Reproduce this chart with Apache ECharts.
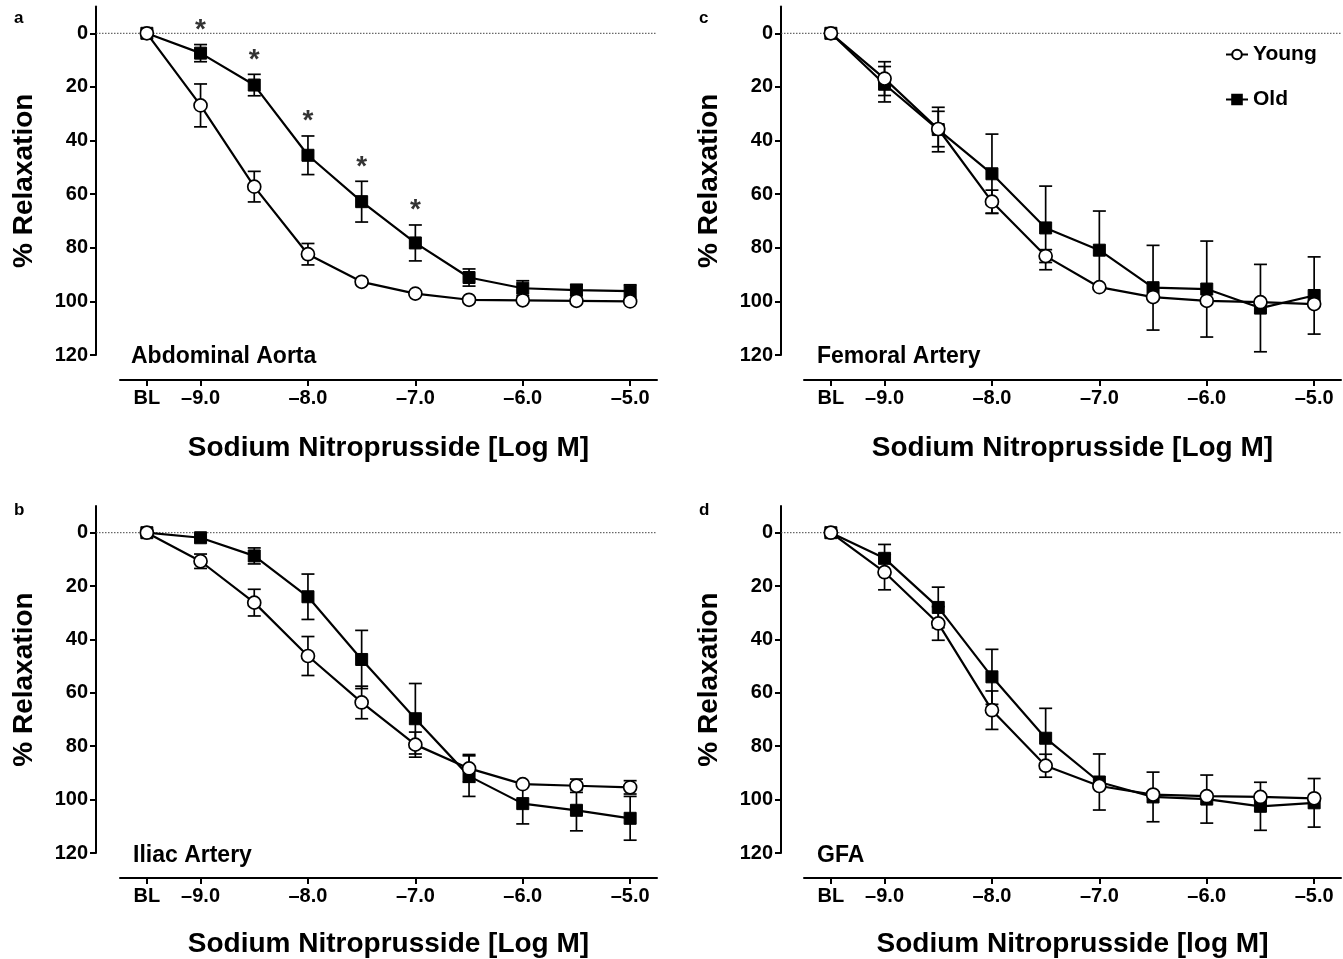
<!DOCTYPE html>
<html><head><meta charset="utf-8">
<script src="https://cdn.jsdelivr.net/npm/echarts@6/dist/echarts.min.js"></script>
<style>html,body{margin:0;padding:0;background:#fff}#c{width:1343px;height:959px}</style>
</head><body><div id="c"></div><script>
// ---- data ----
const doses = [-9.5, -9.0, -8.5, -8.0, -7.5, -7.0, -6.5, -6.0, -5.5, -5.0]; // -9.5 = BL
const xTickValues = [-9.5, -9, -8, -7, -6, -5];
const xTickLabels = ['BL', '–9.0', '–8.0', '–7.0', '–6.0', '–5.0'];
const yTickValues = [0, 20, 40, 60, 80, 100, 120];

// a: Abdominal Aorta
const youngA    = [0, 26.9, 57.2, 82.4, 92.7, 97.1, 99.4, 99.6, 99.8, 100];
const youngAErr = [0, 8.0, 5.7, 4.0, 0, 0, 0, 0, 0, 0];
const oldA      = [0, 7.4, 19.3, 45.5, 62.8, 78.2, 91.1, 95.1, 95.8, 96.2];
const oldAErr   = [0, 3.2, 4.0, 7.2, 7.6, 6.7, 3.2, 2.8, 2.1, 2.4];
const sigA      = [1, 2, 3, 4, 5]; // indices of doses marked with *

// b: Iliac Artery
const youngB    = [0, 10.7, 26.2, 46.2, 63.6, 79.4, 88.3, 94.2, 94.8, 95.4];
const youngBErr = [0, 2.7, 5.0, 7.3, 6.1, 4.7, 5.2, 0, 2.5, 2.5];
const oldB      = [0, 1.9, 8.7, 24.0, 47.5, 69.7, 91.2, 101.5, 104.0, 107.0];
const oldBErr   = [0, 0, 3.0, 8.5, 10.9, 13.2, 7.6, 7.6, 7.7, 8.2];

// c: Femoral Artery
const youngC    = [0, 16.9, 35.7, 62.8, 83.1, 94.7, 98.4, 99.8, 100.3, 101.0];
const youngCErr = [0, 6.3, 6.6, 4.3, 2.4, 0, 0, 0, 0, 0];
const oldC      = [0, 19.0, 35.9, 52.4, 72.6, 80.9, 94.9, 95.4, 102.5, 97.8];
const oldCErr   = [0, 6.6, 8.3, 14.8, 15.6, 14.6, 15.8, 17.9, 16.3, 14.4];

// d: GFA
const youngD    = [0, 14.8, 34.0, 66.5, 87.3, 94.9, 98.1, 98.7, 99.0, 99.5];
const youngDErr = [0, 6.6, 6.3, 7.2, 4.3, 0, 0, 0, 0, 0];
const oldD      = [0, 9.6, 28.0, 54.0, 77.0, 93.4, 99.0, 99.8, 102.5, 101.2];
const oldDErr   = [0, 5.2, 7.6, 10.3, 11.2, 10.5, 9.3, 9.0, 9.0, 9.1];

const panels = [
  {young: youngA, youngErr: youngAErr, old: oldA, oldErr: oldAErr, name: 'Abdominal Aorta', letter: 'a', xTitle: 'Sodium Nitroprusside [Log M]'},
  {young: youngB, youngErr: youngBErr, old: oldB, oldErr: oldBErr, name: 'Iliac Artery', letter: 'b', xTitle: 'Sodium Nitroprusside [Log M]'},
  {young: youngC, youngErr: youngCErr, old: oldC, oldErr: oldCErr, name: 'Femoral Artery', letter: 'c', xTitle: 'Sodium Nitroprusside [Log M]'},
  {young: youngD, youngErr: youngDErr, old: oldD, oldErr: oldDErr, name: 'GFA', letter: 'd', xTitle: 'Sodium Nitroprusside [log M]'}
];

// ---- layout ----
const FONT = '"Liberation Sans", Arial, Helvetica, sans-serif';
const layout = [
  {left: 120, top: 6.5, yOff: 24, xNameGap: 54, letterLeft: 14, letterTop: 10, nameLeft: 131, nameTop: 345},
  {left: 120, top: 506, yOff: 24, xNameGap: 52, letterLeft: 14, letterTop: 502, nameLeft: 133, nameTop: 844},
  {left: 804, top: 6.5, yOff: 23, xNameGap: 54, letterLeft: 699, letterTop: 10, nameLeft: 817, nameTop: 345},
  {left: 804, top: 506, yOff: 23, xNameGap: 52, letterLeft: 699, letterTop: 502, nameLeft: 817, nameTop: 844}
];

const grids = [], xAxes = [], yAxes = [], series = [], titles = [];

function errSeries(gi, means, errs) {
  const data = [];
  doses.forEach((d, i) => { if (errs[i] > 0) data.push([d, means[i] - errs[i], means[i] + errs[i]]); });
  return {
    type: 'custom', xAxisIndex: gi, yAxisIndex: gi, z: 2, silent: true,
    encode: {x: 0, y: [1, 2]},
    data,
    renderItem(params, api) {
      const x = api.value(0);
      const lo = api.coord([x, api.value(1)]);
      const hi = api.coord([x, api.value(2)]);
      const w = 6.5, st = {stroke: '#000', lineWidth: 1.7};
      return {type: 'group', children: [
        {type: 'line', shape: {x1: lo[0], y1: lo[1], x2: hi[0], y2: hi[1]}, style: st},
        {type: 'line', shape: {x1: lo[0] - w, y1: lo[1], x2: lo[0] + w, y2: lo[1]}, style: st},
        {type: 'line', shape: {x1: hi[0] - w, y1: hi[1], x2: hi[0] + w, y2: hi[1]}, style: st}
      ]};
    }
  };
}

panels.forEach((p, gi) => {
  const L = layout[gi];
  grids.push({left: L.left, top: L.top, width: 537, height: 348.5, containLabel: false});
  xAxes.push({
    type: 'value', gridIndex: gi, min: -9.75, max: -4.75, offset: 25, position: 'bottom',
    name: p.xTitle, nameLocation: 'middle', nameGap: L.xNameGap,
    nameTextStyle: {fontSize: 28, fontWeight: 'bold', color: '#000', fontFamily: FONT},
    axisLine: {show: true, onZero: false, lineStyle: {color: '#000', width: 2}},
    axisTick: {show: true, length: 6, lineStyle: {color: '#000', width: 2}, customValues: xTickValues},
    axisLabel: {customValues: xTickValues, margin: 8, fontSize: 20, fontWeight: 'bold', color: '#000', fontFamily: FONT,
      formatter: v => { const k = xTickValues.findIndex(t => Math.abs(t - v) < 1e-6); return k >= 0 ? xTickLabels[k] : ''; }},
    splitLine: {show: false}
  });
  yAxes.push({
    type: 'value', gridIndex: gi, min: -10, max: 120, inverse: true, offset: L.yOff, position: 'left',
    name: '% Relaxation', nameLocation: 'middle', nameGap: 58,
    nameTextStyle: {fontSize: 28, fontWeight: 'bold', color: '#000', fontFamily: FONT},
    axisLine: {show: true, onZero: false, lineStyle: {color: '#000', width: 2}},
    axisTick: {show: true, length: 6, lineStyle: {color: '#000', width: 2}, customValues: yTickValues},
    axisLabel: {customValues: yTickValues, margin: 8, fontSize: 20, fontWeight: 'bold', color: '#000', fontFamily: FONT},
    splitLine: {show: false}
  });
  // dotted zero line from y-axis line to right edge
  series.push({
    type: 'custom', xAxisIndex: gi, yAxisIndex: gi, z: 1, silent: true, clip: false,
    data: [[-9.75, 0]],
    renderItem(params, api) {
      const pt = api.coord([api.value(0), api.value(1)]);
      const cs = params.coordSys;
      return {type: 'line', shape: {x1: cs.x - L.yOff, y1: pt[1], x2: cs.x + cs.width, y2: pt[1]},
        style: {stroke: '#444', lineWidth: 1, lineDash: [1.5, 1.5]}};
    }
  });
  series.push(errSeries(gi, p.old, p.oldErr));
  series.push(errSeries(gi, p.young, p.youngErr));
  series.push({
    name: 'Old', type: 'line', xAxisIndex: gi, yAxisIndex: gi, z: 3,
    data: doses.map((d, i) => [d, p.old[i]]),
    symbol: 'rect', symbolSize: 12, showAllSymbol: true,
    itemStyle: {color: '#000', borderColor: '#000', borderWidth: 1},
    lineStyle: {color: '#000', width: 2.2}, emphasis: {disabled: true}
  });
  series.push({
    name: 'Young', type: 'line', xAxisIndex: gi, yAxisIndex: gi, z: 4,
    data: doses.map((d, i) => [d, p.young[i]]),
    symbol: 'circle', symbolSize: 13, showAllSymbol: true,
    itemStyle: {color: '#fff', borderColor: '#000', borderWidth: 1.7},
    lineStyle: {color: '#000', width: 2.2}, emphasis: {disabled: true}
  });
  titles.push({text: p.letter, left: L.letterLeft, top: L.letterTop, padding: 0,
    textStyle: {fontSize: 17, fontWeight: 'bold', color: '#000', fontFamily: FONT}});
  titles.push({text: p.name, left: L.nameLeft, top: L.nameTop, padding: 0,
    textStyle: {fontSize: 23, fontWeight: 'bold', color: '#000', fontFamily: FONT}});
});

// significance asterisks (panel a)
series.push({
  type: 'scatter', xAxisIndex: 0, yAxisIndex: 0, z: 5, silent: true,
  data: sigA.map(i => [doses[i], oldA[i] - oldAErr[i]]),
  symbolSize: 1, itemStyle: {color: 'rgba(0,0,0,0)'},
  label: {show: true, formatter: '*', position: 'top', distance: 0, fontSize: 28, fontWeight: 'bold', color: '#000', fontFamily: FONT}
});

const chart = echarts.init(document.getElementById('c'), null, {renderer: 'canvas'});
chart.setOption({
  animation: false,
  backgroundColor: '#fff',
  textStyle: {fontFamily: FONT},
  title: titles,
  legend: {
    data: ['Young', 'Old'], orient: 'vertical', left: 1220, top: 39, itemGap: 24,
    itemWidth: 22, itemHeight: 12, selectedMode: false,
    textStyle: {fontSize: 21, fontWeight: 'bold', color: '#000', fontFamily: FONT}
  },
  grid: grids, xAxis: xAxes, yAxis: yAxes, series
});
</script></body></html>
